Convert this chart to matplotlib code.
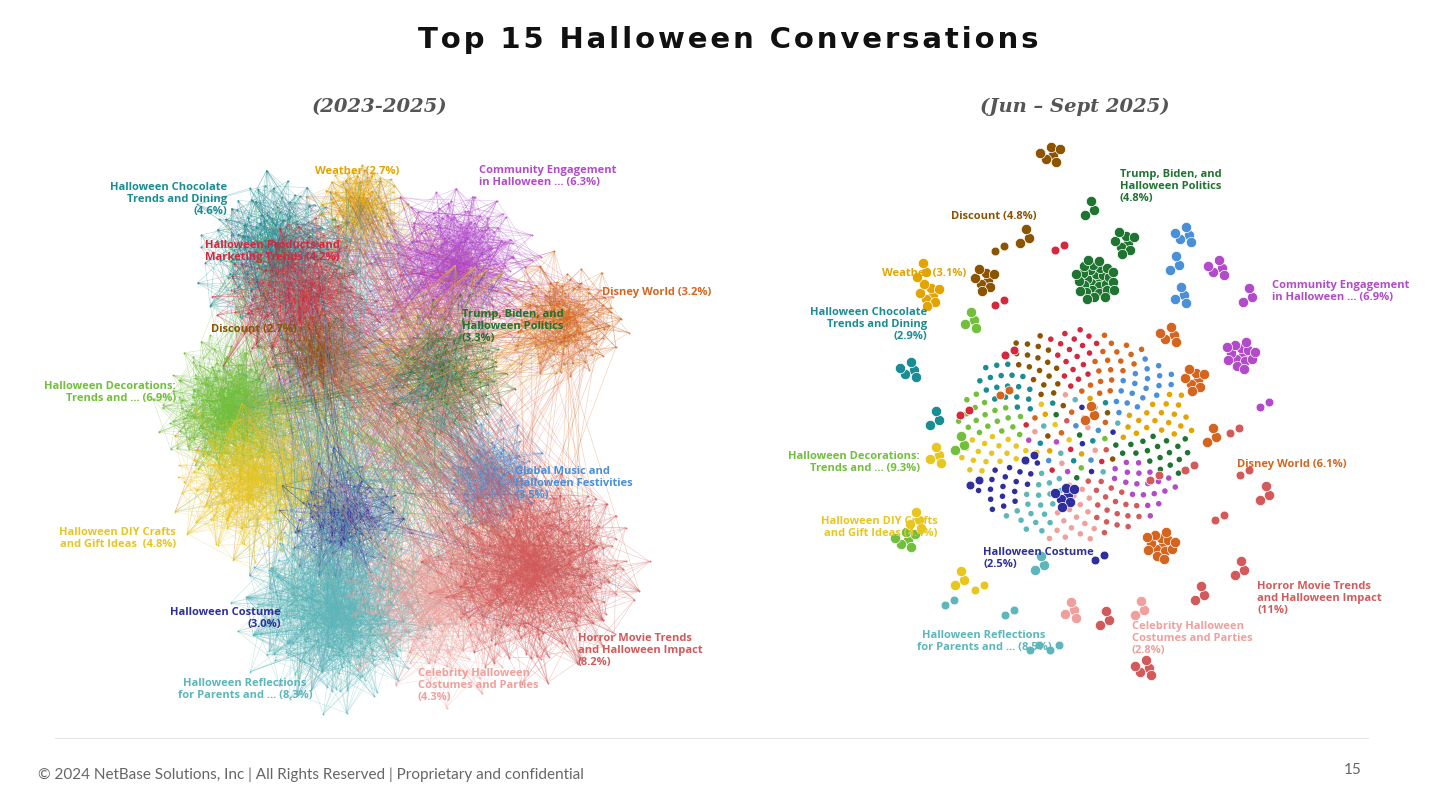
import numpy as np
import matplotlib
matplotlib.use("Agg")
import matplotlib.pyplot as plt
from matplotlib.collections import LineCollection

# ---------------- data ----------------
topics = ["Weather", "Community Engagement", "Halloween Chocolate", "Products and Marketing",
          "Disney World", "Discount", "Trump, Biden, and Politics", "Decorations",
          "Global Music", "DIY Crafts", "Costume", "Reflections", "Celebrity", "Horror Movie"]
share_2023_2025 = [2.7, 6.3, 4.6, 4.2, 3.2, 2.7, 3.3, 6.9, 3.5, 4.8, 3.0, 8.3, 4.3, 8.2]
share_2025 = [3.1, 6.9, 2.9, None, 6.1, 4.8, 4.8, 9.3, None, 4.4, 2.5, 8.5, 2.8, 11]
colors = ["#E3A400", "#B24BC9", "#1A8C93", "#D3283D", "#D5651E", "#8A5400", "#1E7430",
          "#72BF3C", "#4A8FD8", "#E8C620", "#2E2E9C", "#5CB6BA", "#EFA09C", "#D35A5A"]

# layout (pixels) -- left network cluster centres / spreads
left_cx = [360, 455, 275, 300, 565, 320, 445, 230, 490, 250, 345, 335, 440, 535]
left_cy = [205, 265, 250, 300, 320, 355, 375, 410, 480, 480, 520, 610, 600, 570]
left_sp = [30, 50, 50, 55, 40, 35, 45, 45, 35, 50, 40, 60, 60, 65]

left_labels = [
    (315, 166, "Weather (2.7%)", "left", 0),
    (479, 165, "Community Engagement\nin Halloween ... (6.3%)", "left", 1),
    (227, 182, "Halloween Chocolate\nTrends and Dining\n(4.6%)", "right", 2),
    (205, 240, "Halloween Products and\nMarketing Trends (4.2%)", "left", 3),
    (602, 287, "Disney World (3.2%)", "left", 4),
    (211, 324, "Discount (2.7%)", "left", 5),
    (462, 309, "Trump, Biden, and\nHalloween Politics\n(3.3%)", "left", 6),
    (176, 381, "Halloween Decorations:\nTrends and ... (6.9%)", "right", 7),
    (515, 466, "Global Music and\nHalloween Festivities\n(3.5%)", "left", 8),
    (176, 527, "Halloween DIY Crafts\nand Gift Ideas  (4.8%)", "right", 9),
    (281, 607, "Halloween Costume\n(3.0%)", "right", 10),
    (245, 678, "Halloween Reflections\nfor Parents and ... (8.3%)", "center", 11),
    (418, 668, "Celebrity Halloween\nCostumes and Parties\n(4.3%)", "left", 12),
    (578, 633, "Horror Movie Trends\nand Halloween Impact\n(8.2%)", "left", 13),
]

# right panel blobs: (x, y, topic index, node count)
right_blobs = [
    (1050, 155, 5, 6), (1095, 280, 6, 30), (1125, 243, 6, 8), (1090, 210, 6, 3),
    (1185, 235, 8, 5), (1180, 295, 8, 4), (1175, 265, 8, 3), (1218, 268, 1, 5),
    (1248, 297, 1, 3), (1240, 355, 1, 14), (1265, 402, 1, 2), (1025, 238, 5, 3),
    (985, 280, 5, 8), (1000, 246, 5, 2), (930, 295, 0, 8), (922, 272, 0, 3),
    (970, 320, 7, 4), (1000, 300, 3, 2), (1060, 245, 3, 2), (1010, 350, 3, 2),
    (1170, 335, 4, 5), (1195, 380, 4, 8), (1212, 437, 4, 3), (1160, 545, 4, 14),
    (1090, 415, 4, 3), (910, 370, 2, 5), (935, 420, 2, 3), (965, 410, 3, 2),
    (935, 455, 9, 4), (960, 445, 7, 3), (975, 480, 10, 2), (905, 540, 7, 6),
    (915, 520, 9, 4), (960, 580, 9, 3), (980, 585, 9, 2), (1010, 610, 11, 2),
    (1040, 565, 11, 3), (1065, 495, 10, 7), (1100, 555, 10, 2), (1070, 610, 12, 4),
    (1105, 620, 13, 3), (1140, 610, 12, 3), (1145, 668, 13, 5), (1200, 595, 13, 3),
    (1240, 570, 13, 3), (1265, 495, 13, 3), (1220, 515, 13, 2), (1190, 465, 13, 2),
    (1245, 470, 13, 2), (950, 600, 11, 2), (1035, 645, 11, 2), (1055, 645, 11, 2),
    (1005, 390, 4, 2), (1235, 428, 13, 2), (1155, 475, 13, 2), (1030, 455, 10, 2),
]
right_labels = [
    (1120, 169, "Trump, Biden, and\nHalloween Politics\n(4.8%)", "left", 6),
    (951, 211, "Discount (4.8%)", "left", 5),
    (882, 268, "Weather (3.1%)", "left", 0),
    (1272, 280, "Community Engagement\nin Halloween ... (6.9%)", "left", 1),
    (927, 307, "Halloween Chocolate\nTrends and Dining\n(2.9%)", "right", 2),
    (1237, 459, "Disney World (6.1%)", "left", 4),
    (920, 451, "Halloween Decorations:\nTrends and ... (9.3%)", "right", 7),
    (938, 516, "Halloween DIY Crafts\nand Gift Ideas (4.4%)", "right", 9),
    (983, 547, "Halloween Costume\n(2.5%)", "left", 10),
    (1257, 581, "Horror Movie Trends\nand Halloween Impact\n(11%)", "left", 13),
    (984, 630, "Halloween Reflections\nfor Parents and ... (8.5%)", "center", 11),
    (1132, 621, "Celebrity Halloween\nCostumes and Parties\n(2.8%)", "left", 12),
]

GA = np.pi * (3 - np.sqrt(5))

def sunflower(n, r, power=0.5):
    k = np.arange(n)
    rr = r * ((k + 0.5) / n) ** power
    return rr * np.cos(k * GA), rr * np.sin(k * GA)

fig = plt.figure(figsize=(14.3, 8.09), dpi=100)
fig.patch.set_facecolor("white")
ax = fig.add_axes([0, 0, 1, 1])
ax.set_xlim(0, 1430); ax.set_ylim(809, 0); ax.axis("off")

# ------------- left network -------------
allx, ally = [], []
for i in range(len(topics)):
    n = int(share_2023_2025[i] * 35)
    dx, dy = sunflower(n, left_sp[i] * 1.5, power=0.8)
    k = np.arange(n)
    dx = dx * (1 + 0.25 * np.sin(k * 1.7)); dy = dy * (1 + 0.25 * np.cos(k * 2.3))
    allx.append(left_cx[i] + dx); ally.append(left_cy[i] + dy)

segs, segc = [], []
for i in range(len(topics)):
    x, y = allx[i], ally[i]
    n = len(x)
    for m in (3, 7, 13, 29):
        j = (np.arange(n) * m + 5) % n
        for a, b in zip(range(n), j):
            segs.append([(x[a], y[a]), (x[b], y[b])]); segc.append(colors[i])
    for o in ((i + 3) % 14, (i + 6) % 14, (i + 1) % 14, (i + 9) % 14):
        xo, yo = allx[o], ally[o]
        for a in range(0, n, 5):
            b = (a * 11) % len(xo)
            segs.append([(x[a], y[a]), (xo[b], yo[b])]); segc.append(colors[i])
ax.add_collection(LineCollection(segs, colors=segc, linewidths=0.35, alpha=0.4))
for i in range(len(topics)):
    ax.scatter(allx[i], ally[i], s=2, color=colors[i], alpha=0.8, lw=0)

for x, y, t, ha, ci in left_labels:
    ax.text(x, y, t, color=colors[ci], fontsize=8, fontweight="bold", ha=ha, va="top",
            family="Open Sans", linespacing=1.15, zorder=5)

# ------------- right panel -------------
nc = 330
cx, cy = sunflower(nc, 118)
ang = (np.degrees(np.arctan2(cy, cx)) + 360) % 360
sector_order = [6, 1, 13, 12, 11, 10, 9, 7, 2, 5, 3, 4, 8, 0]
sec = (ang // (360 / len(sector_order))).astype(int)
kk = np.arange(nc)
sec = np.where(kk < 60, (sec + kk) % len(sector_order), sec)
cc = [colors[sector_order[s]] for s in sec]
ax.scatter(1075 + cx, 435 + cy * 0.9, s=16, c=cc, lw=0)

for x, y, ci, n in right_blobs:
    dx, dy = sunflower(n, 4 + 3.2 * np.sqrt(n))
    ax.scatter(x + dx, y + dy, s=55 if n > 2 else 40, color=colors[ci], lw=0.5,
               edgecolor="white", zorder=3)

for x, y, t, ha, ci in right_labels:
    ax.text(x, y, t, color=colors[ci], fontsize=8, fontweight="bold", ha=ha, va="top",
            family="Open Sans", linespacing=1.15, zorder=5)

# ------------- titles / footer -------------
title = "Top 15 Halloween Conversations"
ax.text(728, 40, "\u200a".join(title), fontsize=21,
        fontweight="bold", ha="center", va="center", color="#111111", family="DejaVu Sans")
ax.text(380, 107, "(2023-2025)", fontsize=14, style="italic", fontweight="bold",
        ha="center", va="center", color="#555555", family="DejaVu Serif")
ax.text(1075, 107, "(Jun – Sept 2025)", fontsize=14, style="italic", fontweight="bold",
        ha="center", va="center", color="#555555", family="DejaVu Serif")
ax.plot([55, 1368], [738, 738], color="#e6e6e6", lw=0.8)
ax.text(38, 775, "© 2024 NetBase Solutions, Inc | All Rights Reserved | Proprietary and confidential",
        fontsize=11, color="#666666", va="center", family="Lato")
ax.text(1362, 770, "15", fontsize=11, color="#666666", va="center", ha="right", family="Lato")

fig.savefig("out.png", dpi=100, facecolor="white")
